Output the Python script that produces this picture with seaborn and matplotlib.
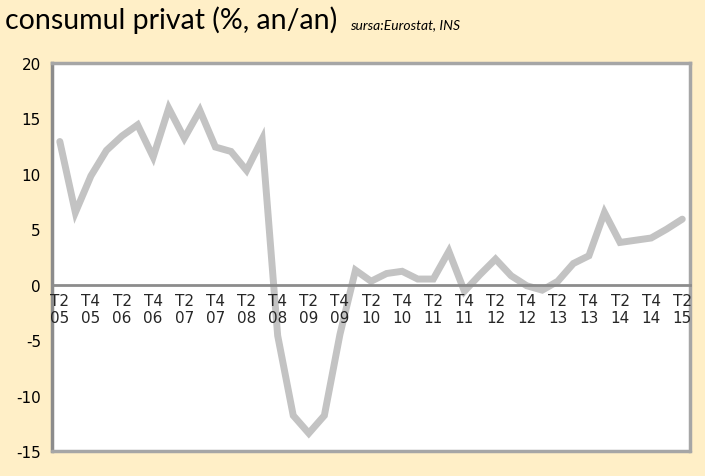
import numpy as np
import pandas as pd
import seaborn as sns
sns.set_theme(style='white')
import matplotlib.pyplot as plt

plt.rcParams['font.family'] = ['DejaVu Sans']

# quarters T2 2005 .. T2 2015, every second one labelled
quarters = ['T2 05', 'T3 05', 'T4 05', 'T1 06', 'T2 06', 'T3 06', 'T4 06', 'T1 07',
            'T2 07', 'T3 07', 'T4 07', 'T1 08', 'T2 08', 'T3 08', 'T4 08', 'T1 09',
            'T2 09', 'T3 09', 'T4 09', 'T1 10', 'T2 10', 'T3 10', 'T4 10', 'T1 11',
            'T2 11', 'T3 11', 'T4 11', 'T1 12', 'T2 12', 'T3 12', 'T4 12', 'T1 13',
            'T2 13', 'T3 13', 'T4 13', 'T1 14', 'T2 14', 'T3 14', 'T4 14', 'T1 15',
            'T2 15']
consum = [12.9, 6.5, 9.8, 12.1, 13.4, 14.4, 11.5, 15.9,
          13.2, 15.7, 12.4, 12.0, 10.3, 13.1, -4.6, -11.8,
          -13.4, -11.8, -4.5, 1.3, 0.3, 1.0, 1.2, 0.5,
          0.5, 3.0, -0.6, 0.9, 2.3, 0.8, -0.1, -0.5,
          0.3, 1.9, 2.6, 6.5, 3.8, 4.0, 4.2, 5.0,
          5.9]
yticks = [-15, -10, -5, 0, 5, 10, 15, 20]

df = pd.DataFrame({'idx': np.arange(len(quarters)), 'q': quarters, 'val': consum})

bg = '#FFEFC7'
border = '#A6A6A6'
fig = plt.figure(figsize=(7.05, 4.77), dpi=100, facecolor=bg)
ax = fig.add_axes([0.0738, 0.0524, 0.905, 0.814])
ax.set_facecolor('white')
ax.set_axisbelow(False)

sns.lineplot(data=df, x='idx', y='val', ax=ax, color='#C3C3C3', linewidth=5,
             solid_joinstyle='miter', legend=False, zorder=2)

ax.set_xlim(-0.5, len(quarters) - 0.5)
ax.set_ylim(-15, 20)
ax.set_yticks(yticks)
ax.set_yticklabels([str(t) for t in yticks], fontsize=11, color='black')

lab_idx = df.idx[::2]
ax.set_xticks(lab_idx)
ax.set_xticklabels([q.replace(' ', '\n') for q in df.q[::2]], fontsize=11,
                   color='black', linespacing=1.25)
ax.set_xticks(np.arange(0.5, len(quarters) - 1, 1), minor=True)
ax.tick_params(axis='x', which='major', length=0, pad=6)
ax.tick_params(axis='x', which='minor', length=4, width=2, color='#8C8C8C', direction='out')
ax.tick_params(axis='y', length=4, width=2, color='#8C8C8C', direction='out', pad=4)
ax.set_xlabel('')
ax.set_ylabel('')

# category axis crosses at zero
ax.spines['bottom'].set_position(('data', 0))
ax.spines['bottom'].set_color('#8C8C8C')
ax.spines['bottom'].set_linewidth(2)
ax.spines['left'].set_color('#8C8C8C')
ax.spines['left'].set_linewidth(2.5)
for s in ['top', 'right']:
    ax.spines[s].set_visible(True)
    ax.spines[s].set_color(border)
    ax.spines[s].set_linewidth(2.5)
ax.axhline(-15, color=border, linewidth=2.5, clip_on=False, zorder=4)

fig.text(0.007, 1 - 29 / 477, 'consumul privat (%, an/an)', fontsize=20.5,
         family=['Lato', 'DejaVu Sans'], va='baseline', color='black')
fig.text(0.496, 1 - 29 / 477, 'sursa:Eurostat, INS', fontsize=10, style='italic',
         family=['Lato', 'DejaVu Sans'], va='baseline', color='black')

fig.savefig('out.png', dpi=100, facecolor=bg)
